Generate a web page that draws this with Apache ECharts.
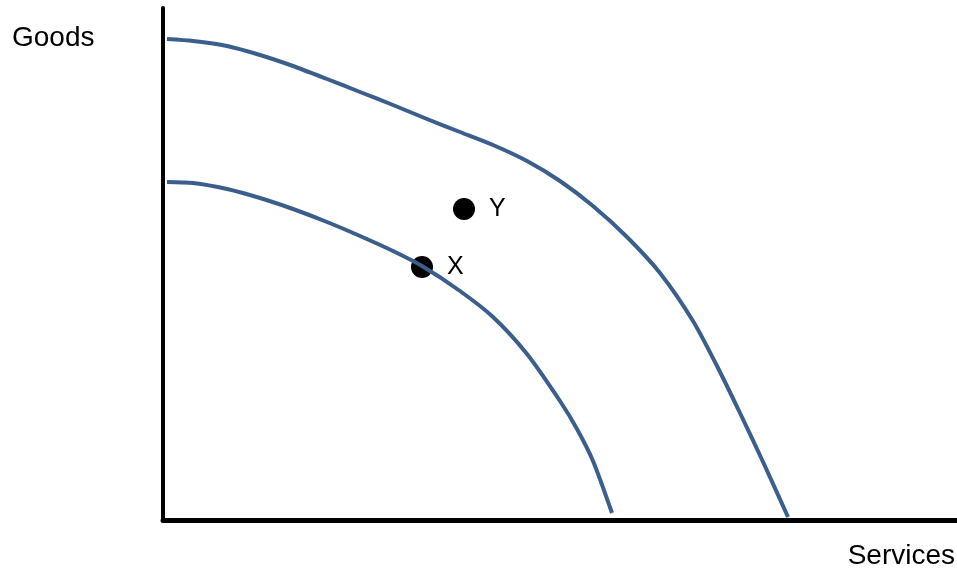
<!DOCTYPE html>
<html>
<head>
<meta charset="utf-8">
<script src="https://cdn.jsdelivr.net/npm/echarts@6/dist/echarts.min.js"></script>
<style>
  html, body { margin: 0; padding: 0; background: #fff; }
  #chart { width: 957px; height: 570px; }
</style>
</head>
<body>
<div id="chart"></div>
<script>
// curves: [services, goods]
const outerCurve = [
  [4, 481], [30, 479], [64, 474], [97, 465], [130, 454], [164, 441],
  [197, 428], [230, 415], [264, 401], [297, 388], [330, 375], [364, 359],
  [397, 339], [430, 314], [464, 283], [497, 247], [530, 199], [554, 154],
  [577, 107], [601, 56], [625, 3]
]
const innerCurve = [
  [4, 338], [30, 337], [64, 331], [97, 322], [130, 311], [164, 298],
  [197, 284], [230, 269], [259, 254], [297, 229], [330, 203], [364, 166],
  [397, 119], [414, 91], [430, 59], [449, 7]
]
const pointNames = ['X', 'Y']
const pointValues = [[259, 253], [301, 311]]

const chart = echarts.init(document.getElementById('chart'))
const curveColor = '#3b5e8c'
const font = 'Liberation Sans, Arial, sans-serif'

chart.setOption({
  animation: false,
  title: [
    { text: 'Goods', left: 7, top: 19, textStyle: { fontSize: 28, fontWeight: 'normal', color: '#000', fontFamily: font } },
    { text: 'Services', right: -3, top: 537, textStyle: { fontSize: 28, fontWeight: 'normal', color: '#000', fontFamily: font } }
  ],
  grid: { left: 163, right: 0, top: 8, bottom: 50 },
  xAxis: {
    type: 'value', min: 0, max: 794,
    axisLine: { lineStyle: { color: '#000', width: 5 } },
    axisTick: { show: false }, axisLabel: { show: false }, splitLine: { show: false }
  },
  yAxis: {
    type: 'value', min: 0, max: 512,
    axisLine: { show: true, lineStyle: { color: '#000', width: 4 } },
    axisTick: { show: false }, axisLabel: { show: false }, splitLine: { show: false }
  },
  series: [
    {
      type: 'line', data: outerCurve, smooth: 0.25, showSymbol: false, clip: false,
      lineStyle: { color: curveColor, width: 4, join: 'round' }
    },
    {
      type: 'line', data: innerCurve, smooth: 0.25, showSymbol: false, clip: false,
      lineStyle: { color: curveColor, width: 4, join: 'round' }
    },
    {
      type: 'scatter', symbolSize: 22,
      data: pointValues.map((v, i) => ({ value: v, name: pointNames[i] })),
      itemStyle: { color: '#000', opacity: 1 },
      label: {
        show: true, position: 'right', distance: 14, formatter: '{b}',
        fontSize: 25, color: '#000', fontFamily: font
      }
    }
  ]
})
</script>
</body>
</html>
